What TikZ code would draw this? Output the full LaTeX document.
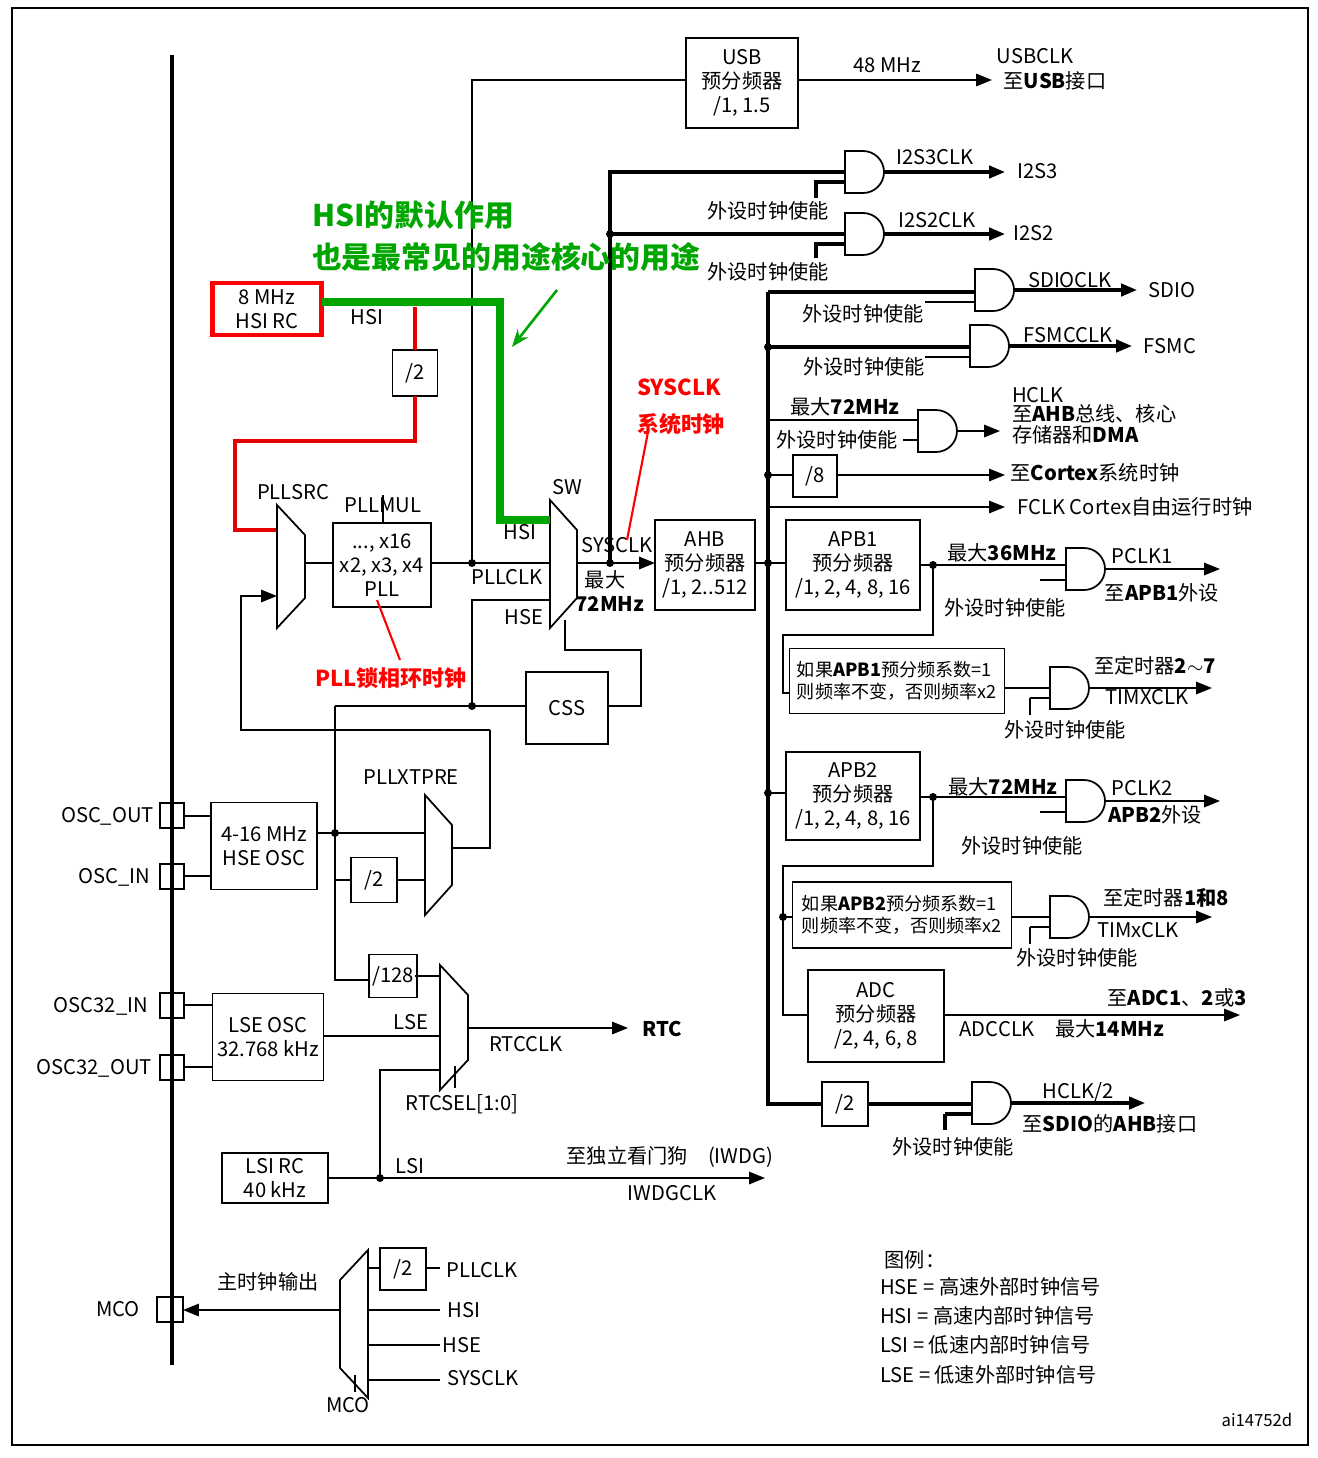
\documentclass[tikz,border=0pt]{standalone}
\usepackage{fontspec}
\setmainfont{Noto Sans CJK SC}
\usetikzlibrary{arrows.meta, calc}
\tikzset{%
    ln/.style={line width=1pt},
    lnb/.style={line width=1.8pt},
    lna/.style={line width=1pt, -{Triangle[length=9pt,width=7pt]}},
    lnba/.style={line width=1.8pt, -{Triangle[length=9pt,width=7pt]}},
    box/.style={draw, line width=1pt, align=center, inner sep=2pt},
    txt/.style={inner sep=1pt, align=left},
    dot/.style={circle, fill, inner sep=1.6pt},
    red/.style={draw=red!90!black, line width=2.5pt},
    grn/.style={draw=green!65!black, line width=4pt},
}
\newcommand{\andgate}[3]{% x, y centre, half height
    \draw[ln] (#1,#2-#3) -- (#1+18,#2-#3) arc(-90:90:#3) -- (#1,#2+#3) -- cycle;}
\newcommand{\muxr}[5]{% x, ytop, ybot, width, inset
    \draw[ln] (#1,#2) -- (#1+#4,#2+#5) -- (#1+#4,#3-#5) -- (#1,#3) -- cycle;}
\begin{document}
\begin{tikzpicture}[x=0.02cm, y=-0.02cm, font=\fontsize{11.5}{13.5}\selectfont]
    \useasboundingbox (0,0) rectangle (1318,1458);
    \draw[line width=1.5pt] (12,8) rectangle (1308,1445);
    \draw[line width=2.5pt] (172,55) -- (172,1365);
    % USB
    \node[box, minimum width=2.24cm, minimum height=1.8cm] (usb) at (742,83) {USB\\预分频器\\/1, 1.5};
    \draw[lna] (798,80) -- (992,80);
    \node[txt] at (887,65) {48 MHz};
    \node[txt] at (1035,56) {USBCLK};
    \node[txt] at (1055,81) {至\textbf{USB}接口};
    \draw[ln] (686,80) -- (472,80) -- (472,563);
    % SW and SYSCLK
    \muxr{550}{500}{628}{27}{30}
    \node[txt] at (567,487) {SW};
    \node[txt] at (520,532) {HSI};
    \node[txt] at (507,577) {PLLCLK};
    \node[txt] at (524,617) {HSE};
    \node[txt] at (617,545) {SYSCLK};
    \node[txt] at (605,580) {最大};
    \node[txt] at (610,604) {\textbf{72MHz}};
    \draw[ln] (431,563) -- (550,563);
    \node[dot] at (472,563) {};
    \draw[lna] (577,563) -- (655,563);
    \node[dot] at (610,563) {};
    \draw[lnb] (610,563) -- (610,172) -- (845,172);
    \draw[lnb] (610,234) -- (845,234);
    \node[dot] at (610,234) {};
    % AHB
    \node[box, minimum width=2cm, minimum height=1.8cm] (ahb) at (705,565) {AHB\\预分频器\\/1, 2..512};
    \draw[ln] (755,563) -- (786,563);
    \node[dot] at (768,563) {};
    \draw[lnb] (768,292) -- (768,1104) -- (822,1104);
    % I2S
    \andgate{845}{172}{21}
    \draw[lnba] (884,172) -- (1005,172);
    \node[txt] at (935,157) {I2S3CLK};
    \node[txt] at (1038,171) {I2S3};
    \draw[lnb] (845,182) -- (816,182) -- (816,198);
    \node[txt] at (768,211) {外设时钟使能};
    \andgate{845}{234}{21}
    \draw[lnba] (884,234) -- (1005,234);
    \node[txt] at (937,220) {I2S2CLK};
    \node[txt] at (1034,233) {I2S2};
    \draw[lnb] (845,244) -- (816,244) -- (816,258);
    \node[txt] at (768,272) {外设时钟使能};
    % SDIO FSMC
    \andgate{975}{290}{21}
    \draw[lnb] (768,292) -- (975,292);
    \draw[ln] (925,302) -- (975,302);
    \draw[lnba] (1014,290) -- (1137,290);
    \node[txt] at (1070,280) {SDIOCLK};
    \node[txt] at (1172,290) {SDIO};
    \node[txt] at (863,314) {外设时钟使能};
    \andgate{970}{346}{21}
    \draw[lnb] (768,347) -- (970,347);
    \node[dot] at (768,347) {};
    \draw[ln] (925,357) -- (970,357);
    \draw[lnba] (1009,346) -- (1132,346);
    \node[txt] at (1068,335) {FSMCCLK};
    \node[txt] at (1170,346) {FSMC};
    \node[txt] at (864,367) {外设时钟使能};
    % HCLK
    \andgate{918}{431}{21}
    \draw[ln] (768,420) -- (918,420);
    \draw[ln] (903,440) -- (918,440);
    \draw[lna] (957,431) -- (1000,431);
    \node[txt] at (845,407) {最大\textbf{72MHz}};
    \node[txt] at (837,440) {外设时钟使能};
    \node[txt, anchor=west] at (1010,395) {HCLK};
    \node[txt, anchor=west] at (1010,414) {至\textbf{AHB}总线、核心};
    \node[txt, anchor=west] at (1010,435) {存储器和\textbf{DMA}};
    % /8 and FCLK
    \node[box, minimum width=0.88cm, minimum height=0.84cm] (div8) at (815,476) {/8};
    \draw[ln] (768,475) -- (793,475);
    \node[dot] at (768,475) {};
    \draw[lna] (837,475) -- (1005,475);
    \node[txt] at (1095,473) {至\textbf{Cortex}系统时钟};
    \draw[lna] (768,507) -- (1005,507);
    \node[txt] at (1135,507) {FCLK Cortex自由运行时钟};
    % APB1
    \node[box, minimum width=2.68cm, minimum height=1.8cm] (apb1) at (853,565) {APB1\\预分频器\\/1, 2, 4, 8, 16};
    \draw[ln] (920,565) -- (1066,565);
    \node[dot] at (933,565) {};
    \node[txt] at (1002,553) {最大\textbf{36MHz}};
    \andgate{1066}{569}{21}
    \draw[ln] (1040,580) -- (1066,580);
    \draw[lna] (1105,569) -- (1220,569);
    \node[txt] at (1142,556) {PCLK1};
    \node[txt] at (1162,593) {至\textbf{APB1}外设};
    \node[txt] at (1005,608) {外设时钟使能};
    \draw[ln] (933,565) -- (933,635) -- (783,635) -- (783,693) -- (790,693);
    \node[box, minimum width=4.3cm, minimum height=1.3cm, align=left, inner sep=1pt, font=\fontsize{10.3}{12.5}\selectfont] (tim1) at (897,681) {如果\textbf{APB1}预分频系数=1\\则频率不变，否则频率x2};
    \draw[ln] (1005,688) -- (1050,688);
    \andgate{1050}{688}{21}
    \draw[ln] (1030,698) -- (1050,698) (1030,698) -- (1030,715);
    \draw[lna] (1089,688) -- (1212,688);
    \node[txt] at (1155,666) {至定时器\textbf{2$\sim$7}};
    \node[txt] at (1147,697) {TIMXCLK};
    \node[txt] at (1065,730) {外设时钟使能};
    % APB2
    \node[box, minimum width=2.68cm, minimum height=1.76cm] (apb2) at (853,796) {APB2\\预分频器\\/1, 2, 4, 8, 16};
    \draw[ln] (768,793) -- (786,793);
    \node[dot] at (768,793) {};
    \draw[ln] (920,797) -- (1066,797);
    \node[dot] at (933,797) {};
    \node[txt] at (1003,787) {最大\textbf{72MHz}};
    \andgate{1066}{801}{21}
    \draw[ln] (1040,812) -- (1066,812);
    \draw[lna] (1105,801) -- (1220,801);
    \node[txt] at (1142,788) {PCLK2};
    \node[txt] at (1155,815) {\textbf{APB2}外设};
    \node[txt] at (1022,846) {外设时钟使能};
    \draw[ln] (933,797) -- (933,866) -- (783,866) -- (783,1015) -- (808,1015);
    \draw[ln] (783,917) -- (793,917);
    \node[dot] at (783,917) {};
    \node[box, minimum width=4.38cm, minimum height=1.32cm, align=left, inner sep=1pt, font=\fontsize{10.3}{12.5}\selectfont] (tim2) at (902,915) {如果\textbf{APB2}预分频系数=1\\则频率不变，否则频率x2};
    \draw[ln] (1012,917) -- (1050,917);
    \andgate{1050}{917}{21}
    \draw[ln] (1030,927) -- (1050,927) (1030,927) -- (1030,944);
    \draw[lna] (1089,917) -- (1212,917);
    \node[txt] at (1166,898) {至定时器\textbf{1和8}};
    \node[txt] at (1138,930) {TIMxCLK};
    \node[txt] at (1077,958) {外设时钟使能};
    % ADC
    \node[box, minimum width=2.72cm, minimum height=1.84cm] (adc) at (876,1016) {ADC\\预分频器\\/2, 4, 6, 8};
    \draw[lna] (944,1015) -- (1240,1015);
    \node[txt] at (1177,998) {至\textbf{ADC1}、\textbf{2}或\textbf{3}};
    \node[txt] at (1062,1029) {ADCCLK\quad 最大\textbf{14MHz}};
    % /2 SDIO AHB
    \node[box, minimum width=0.92cm, minimum height=0.88cm] (div2s) at (845,1104) {/2};
    \draw[lnb] (868,1104) -- (972,1104);
    \andgate{972}{1103}{21}
    \draw[lnb] (945,1114) -- (972,1114) (945,1114) -- (945,1130);
    \draw[lnba] (1011,1103) -- (1145,1103);
    \node[txt] at (1078,1092) {HCLK/2};
    \node[txt] at (1110,1124) {至\textbf{SDIO}的\textbf{AHB}接口};
    \node[txt] at (953,1147) {外设时钟使能};
    % HSI
    \node[box, minimum width=2.18cm, minimum height=1.04cm, draw=red, line width=2.5pt] (hsi) at (267,309) {8 MHz\\HSI RC};
    \node[txt] at (367,317) {HSI};
    \node[box, minimum width=0.9cm, minimum height=0.92cm] (hsidiv) at (415,373) {/2};
    \draw[red] (415,307) -- (415,350);
    \draw[red] (415,396) -- (415,441) -- (235,441) -- (235,530) -- (277,530);
    \draw[grn] (322,302) -- (500,302) -- (500,520) -- (550,520);
    % PLL
    \muxr{277}{505}{628}{28}{30}
    \node[txt] at (293,492) {PLLSRC};
    \draw[ln] (305,563) -- (333,563);
    \node[box, minimum width=1.96cm, minimum height=1.68cm] (pll) at (382,565) {..., x16\\x2, x3, x4\\PLL};
    \node[txt] at (383,505) {PLLMUL};
    \draw[ln] (383,495) -- (383,523);
    \draw[ln] (550,600) -- (472,600) -- (472,706);
    \node[dot] at (472,706) {};
    \node[box, minimum width=1.64cm, minimum height=1.44cm] (css) at (567,708) {CSS};
    \draw[ln] (335,706) -- (526,706);
    \draw[ln] (608,706) -- (641,706) -- (641,650) -- (565,650) -- (565,620);
    \draw[lna] (490,730) -- (241,730) -- (241,596) -- (277,596);
    \draw[ln] (490,730) -- (490,848) -- (452,848);
    % HSE
    \node[box, minimum width=2.12cm, minimum height=1.74cm] (hse) at (264,846) {4-16 MHz\\HSE OSC};
    \draw[ln] (160,803) rectangle (184,828) (160,864) rectangle (184,889);
    \draw[ln] (184,816) -- (211,816) (184,876) -- (211,876);
    \node[txt, anchor=east] at (156,816) {OSC\_OUT};
    \node[txt, anchor=east] at (152,877) {OSC\_IN};
    \draw[ln] (317,833) -- (425,833);
    \node[dot] at (335,833) {};
    \node[box, minimum width=0.92cm, minimum height=0.9cm] (hsediv) at (374,880) {/2};
    \draw[ln] (335,880) -- (351,880) (397,880) -- (425,880);
    \muxr{425}{795}{915}{27}{30}
    \node[txt] at (411,777) {PLLXTPRE};
    \draw[ln] (335,706) -- (335,980) -- (370,980);
    % LSE RTC
    \node[box, minimum width=0.9cm, minimum height=0.86cm] (div128) at (393,976) {/128};
    \draw[ln] (415,976) -- (440,976);
    \node[box, minimum width=2.22cm, minimum height=1.74cm] (lse) at (268,1037) {LSE OSC\\32.768 kHz};
    \draw[ln] (160,993) rectangle (184,1018) (160,1055) rectangle (184,1080);
    \draw[ln] (184,1005) -- (213,1005) (184,1067) -- (213,1067);
    \node[txt, anchor=east] at (150,1006) {OSC32\_IN};
    \node[txt, anchor=east] at (154,1068) {OSC32\_OUT};
    \draw[ln] (324,1036) -- (440,1036);
    \node[txt] at (411,1022) {LSE};
    \muxr{440}{965}{1090}{28}{30}
    \draw[lna] (468,1028) -- (628,1028);
    \node[txt] at (526,1044) {RTCCLK};
    \node[txt] at (662,1029) {\textbf{RTC}};
    \draw[ln] (455,1066) -- (455,1088);
    \node[txt] at (462,1104) {RTCSEL[1:0]};
    % LSI
    \node[box, minimum width=2.12cm, minimum height=1cm] (lsi) at (275,1178) {LSI RC\\40 kHz};
    \draw[lna] (328,1178) -- (765,1178);
    \node[dot] at (380,1178) {};
    \draw[ln] (380,1178) -- (380,1070) -- (440,1070);
    \node[txt] at (410,1166) {LSI};
    \node[txt] at (670,1157) {至独立看门狗\quad(IWDG)};
    \node[txt] at (672,1193) {IWDGCLK};
    % MCO
    \draw[ln] (157,1297) rectangle (183,1322);
    \node[txt] at (118,1309) {MCO};
    \draw[ln] (340,1280) -- (368,1250) -- (368,1398) -- (340,1368) -- cycle;
    \draw[lna] (340,1310) -- (183,1310);
    \node[txt] at (268,1282) {主时钟输出};
    \node[txt] at (348,1405) {MCO};
    \draw[ln] (355,1375) -- (355,1392);
    \node[box, minimum width=0.92cm, minimum height=0.84cm] (mcodiv) at (403,1269) {/2};
    \draw[ln] (368,1268) -- (380,1268) (426,1268) -- (440,1268);
    \draw[ln] (368,1310) -- (440,1310) (368,1345) -- (440,1345) (368,1380) -- (440,1380);
    \node[txt] at (482,1270) {PLLCLK};
    \node[txt] at (464,1310) {HSI};
    \node[txt] at (462,1345) {HSE};
    \node[txt] at (483,1378) {SYSCLK};
    % legend
    \node[txt] at (915,1260) {图例：};
    \node[txt, anchor=west] at (878,1287) {HSE = 高速外部时钟信号};
    \node[txt, anchor=west] at (878,1316) {HSI = 高速内部时钟信号};
    \node[txt, anchor=west] at (878,1345) {LSI = 低速内部时钟信号};
    \node[txt, anchor=west] at (878,1375) {LSE = 低速外部时钟信号};
    \node[txt, font=\fontsize{9.5}{11}\selectfont] at (1257,1420) {ai14752d};
    % annotations
    \node[txt, anchor=west, text=green!65!black, font=\fontsize{17}{20}\bfseries] at (310,215) {HSI的默认作用};
    \node[txt, anchor=west, text=green!65!black, font=\fontsize{17}{20}\bfseries] at (310,257) {也是最常见的用途核心的用途};
    \draw[draw=green!65!black, line width=1.5pt, -{Stealth[length=10pt]}] (557,290) -- (512,347);
    \node[txt, text=red, font=\fontsize{12.5}{15}\bfseries] at (679,387) {SYSCLK};
    \node[txt, text=red, font=\fontsize{12.5}{15}\bfseries] at (681,424) {系统时钟};
    \draw[draw=red, line width=1.2pt] (648,432) -- (627,540);
    \node[txt, text=red, font=\fontsize{12.5}{15}\bfseries] at (391,678) {PLL锁相环时钟};
    \draw[draw=red, line width=1.2pt] (400,660) -- (377,600);
\end{tikzpicture}
\end{document}
